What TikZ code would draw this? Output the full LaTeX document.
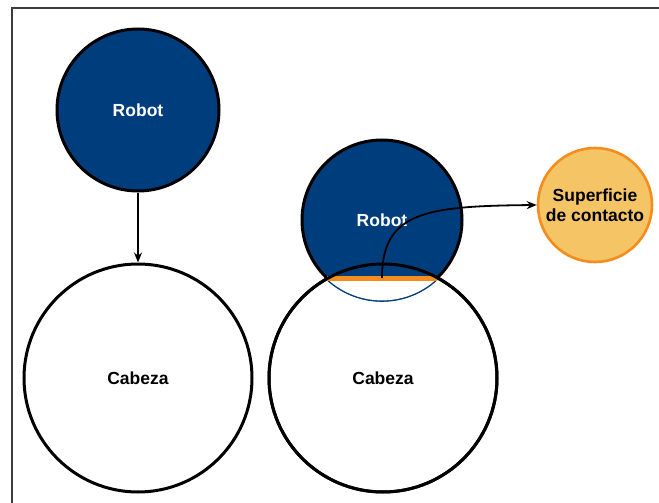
\documentclass[tikz,border=0pt]{standalone}
\usepackage{fontspec}
\setmainfont{Liberation Sans}
\usetikzlibrary{arrows.meta,positioning}
\definecolor{rblue}{RGB}{0,61,124}
\definecolor{rorange}{RGB}{247,140,30}
\definecolor{rsand}{RGB}{245,196,100}
\definecolor{rframe}{RGB}{60,60,60}

\begin{document}
\begin{tikzpicture}[x=1pt,y=-1pt,>={Stealth[length=10pt,width=8pt]},
  every node/.style={font=\fontsize{17.5}{20}\selectfont\bfseries},
  robot/.style={circle,draw=black,line width=3pt,fill=rblue,text=white,minimum size=#1,inner sep=0pt},
  cabeza/.style={circle,draw=black,line width=3pt,minimum size=228,inner sep=0pt},
  link/.style={->,line width=1.8pt}]
  \useasboundingbox (0,0) rectangle (659,503);
  % frame
  \draw[rframe,line width=1.4pt] (12,503) -- (12,8) -- (659,8);
  % left pair
  \node[robot=162] (robotA) at (138,110) {Robot};
  \node[cabeza,fill=white] (cabezaA) at (138,378) {Cabeza};
  \draw[link] (robotA) -- (cabezaA);
  % right pair
  \node[cabeza,fill=white] (cabezaB) at (383,378) {};
  \node[robot=160] (robotB) at (382,220) {Robot};
  \coordinate (chordL) at (327,278);
  \coordinate (chordR) at (437,278);
  \coordinate (chordM) at (382,278);
  \begin{scope}
    \clip (290,278) rectangle (480,320);
    \fill[rblue] (robotB.center) circle (81.8);
    \fill[white] (robotB.center) circle (80.4);
  \end{scope}
  \draw[rorange,line width=5pt] (chordL) -- (chordR);
  \draw[black,line width=3pt] (cabezaB.center) circle (114);
  \node at (cabezaB.center) {Cabeza};
  % contact surface
  \node[circle,draw=rorange,line width=2.6pt,fill=rsand,minimum size=114,inner sep=0pt,
        align=center] (contacto) at (595,205) {Superficie\\de contacto};
  \draw[link] (chordM) .. controls (382,212) and (425,206) .. (contacto.west);
\end{tikzpicture}
\end{document}
